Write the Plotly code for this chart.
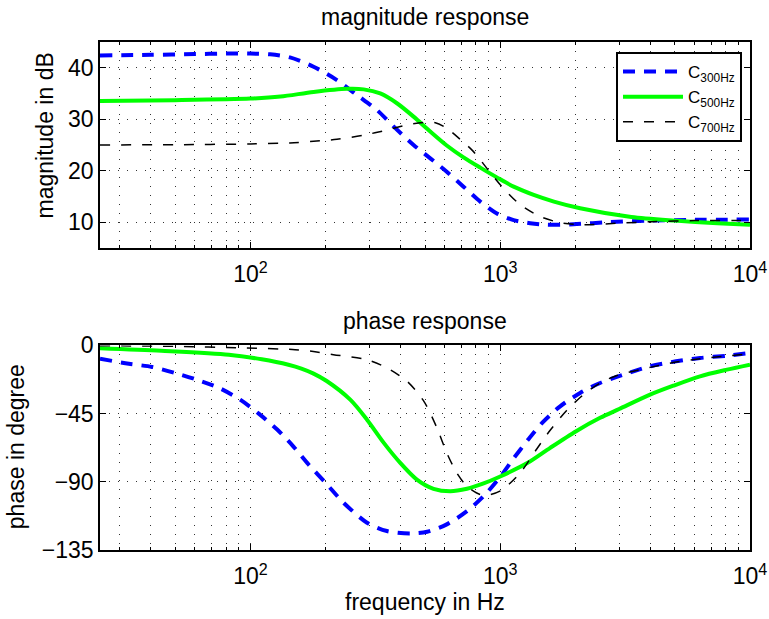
import plotly.graph_objects as go

FONT = "Liberation Sans, Arial, Helvetica, sans-serif"

# ---------------- data ----------------
series_names = ["C<sub>300Hz</sub>", "C<sub>500Hz</sub>", "C<sub>700Hz</sub>"]

freq_mag_300 = [25, 40, 60, 80, 100, 120, 144, 179, 222, 267, 321, 374, 450, 525, 611,
                713, 832, 970, 1132, 1318, 1538, 1968, 2737, 4062, 6000, 10000]
mag_300 = [42.4, 42.5, 42.65, 42.75, 42.75, 42.6, 42.0, 40.2, 37.6, 34.7, 31.8, 28.6, 25.0,
           22.4, 19.8, 16.9, 14.0, 11.7, 10.4, 9.8, 9.5, 9.6, 10.0, 10.3, 10.45, 10.5]

freq_mag_500 = [25, 50, 100, 132, 179, 244, 284, 331, 386, 450, 525, 611, 713, 832, 970,
                1132, 1362, 1641, 2089, 3350, 4990, 7400, 10000]
mag_500 = [33.55, 33.7, 34.0, 34.4, 35.3, 35.9, 35.8, 35.0, 33.1, 30.5, 27.6, 24.9, 22.6,
           20.6, 18.7, 16.9, 15.3, 14.0, 12.7, 11.0, 10.3, 9.8, 9.5]

freq_mag_700 = [25, 50, 100, 144, 179, 222, 284, 352, 424, 510, 550, 610, 665, 775, 890,
                1015, 1202, 1445, 1738, 2089, 3000, 4062, 6000, 10000]
mag_700 = [25.0, 25.05, 25.2, 25.4, 25.7, 26.1, 26.9, 27.9, 28.9, 29.4, 29.3, 28.3, 26.8,
           23.9, 20.3, 16.9, 13.4, 11.1, 9.9, 9.5, 9.8, 10.1, 10.3, 10.35]

freq_ph_300 = [25, 32.6, 40.4, 50, 61, 75, 91, 108, 128, 149, 171, 200, 236, 293, 352, 437,
               510, 611, 736, 858, 1003, 1132, 1289, 1472, 1738, 2089, 2512, 3112, 3981,
               5058, 6310, 8090, 10000]
ph_300 = [-8.8, -12.1, -14.2, -18.2, -22.6, -28.1, -35.8, -45.0, -55.5, -66.9, -78.6, -90.7,
          -103.8, -117.0, -122.5, -124.1, -123.0, -118.1, -109.4, -99.5, -86.5, -74.5, -62.5,
          -51.1, -40.2, -31.4, -24.8, -19.3, -13.8, -10.5, -8.3, -6.8, -5.0]

freq_ph_500 = [25, 44, 82, 111, 142, 160, 179, 202, 251, 293, 342, 398, 464, 541, 631, 736,
               858, 1000, 1289, 1585, 2014, 2512, 2993, 3981, 4932, 6310, 8090, 10000]
ph_500 = [-1.8, -3.5, -6.1, -9.2, -12.8, -15.3, -18.6, -23.5, -35.8, -49.0, -64.3, -77.5,
          -88.5, -94.6, -96.2, -94.6, -91.1, -86.5, -77.5, -67.6, -56.6, -47.8, -42.0, -32.5,
          -26.6, -20.4, -16.0, -12.7]

freq_ph_700 = [25, 50, 95, 151, 176, 215, 293, 352, 424, 495, 558, 611, 670, 736, 832, 912,
               1015, 1202, 1396, 1585, 1845, 2153, 2512, 2930, 3981, 5058, 6310, 8090, 10000]
ph_700 = [-0.2, -0.6, -1.7, -2.8, -3.9, -6.1, -9.4, -14.9, -23.7, -36.9, -54.4, -70.9, -84.1,
          -92.9, -98.4, -98.4, -95.5, -84.1, -68.7, -56.0, -43.0, -32.5, -24.8, -19.9, -14.5,
          -11.0, -8.8, -7.0, -5.4]

x_tick_vals = [100, 1000, 10000]
x_tick_text = ["10<sup>2</sup>", "10<sup>3</sup>", "10<sup>4</sup>"]
mag_ticks = [10, 20, 30, 40]
ph_ticks = [0, -45, -90, -135]

# ---------------- layout geometry ----------------
W, H = 769, 619
ML, MR, MT, MB = 99.5, 19, 42, 68.5
PW = W - ML - MR
PH = H - MT - MB


def py(p):
    return 1 - (p - MT) / PH


def px(p):
    return (p - ML) / PW


styles = [
    dict(color="#0000FF", width=4, dash="12px,9px"),
    dict(color="#00FF00", width=4, dash="solid"),
    dict(color="#000000", width=1.5, dash="10px,11px"),
]

fig = go.Figure()
mags = [(freq_mag_300, mag_300), (freq_mag_500, mag_500), (freq_mag_700, mag_700)]
phs = [(freq_ph_300, ph_300), (freq_ph_500, ph_500), (freq_ph_700, ph_700)]
for name, (f, m), st in zip(series_names, mags, styles):
    fig.add_trace(go.Scatter(x=f, y=m, mode="lines", name=name,
                             line=dict(shape="spline", smoothing=0.8, **st),
                             xaxis="x", yaxis="y", showlegend=True))
for name, (f, p), st in zip(series_names, phs, styles):
    fig.add_trace(go.Scatter(x=f, y=p, mode="lines", name=name,
                             line=dict(shape="spline", smoothing=0.8, **st),
                             xaxis="x2", yaxis="y2", showlegend=False))

minor_vals = [m * 10 ** d for d in (1, 2, 3) for m in range(2, 10) if 25 < m * 10 ** d < 10000]

GRID = dict(showgrid=True, gridcolor="#333333", gridwidth=1, griddash="1px,8px")
common_x = dict(type="log", range=[1.39794, 4], tickvals=x_tick_vals, ticktext=x_tick_text,
                ticks="inside", ticklen=6, tickcolor="black", tickwidth=1,
                showline=True, linecolor="black", linewidth=1.5, mirror="allticks",
                zeroline=False, tickfont=dict(size=23, family=FONT, color="black"),
                ticklabelstandoff=5,
                minor=dict(tickvals=minor_vals, ticks="inside", ticklen=3, tickcolor="black",
                           showgrid=True, gridcolor="#333333", gridwidth=1, griddash="1px,8px"),
                **GRID)
common_y = dict(ticks="inside", ticklen=6, tickcolor="black", tickwidth=1,
                showline=True, linecolor="black", linewidth=1.5, mirror="allticks",
                zeroline=False, tickfont=dict(size=23, family=FONT, color="black"),
                ticklabelstandoff=0, **GRID)

top_lo = py(248.1)
bot_hi = py(345.7)

fig.update_layout(
    width=W, height=H,
    margin=dict(l=ML, r=MR, t=MT, b=MB, autoexpand=False),
    paper_bgcolor="white", plot_bgcolor="white",
    font=dict(family=FONT, size=23, color="black"),
    xaxis=dict(domain=[0, 1], anchor="y", **common_x),
    yaxis=dict(domain=[top_lo, 1], anchor="x", range=[5, 45], tickvals=mag_ticks, **common_y),
    xaxis2=dict(domain=[0, 1], anchor="y2", **common_x),
    yaxis2=dict(domain=[0, bot_hi], anchor="x2", range=[-135, 0], tickvals=ph_ticks, **common_y),
    legend=dict(x=px(742), xanchor="right", y=py(52), yanchor="top",
                bordercolor="black", borderwidth=2, bgcolor="white",
                font=dict(size=17, family=FONT, color="black"), itemwidth=60,
                tracegroupgap=0),
    annotations=[
        dict(text="magnitude response", x=0.5, y=py(17), xref="paper", yref="paper",
             showarrow=False, xanchor="center", yanchor="middle", font=dict(size=23)),
        dict(text="phase response", x=0.5, y=py(321), xref="paper", yref="paper",
             showarrow=False, xanchor="center", yanchor="middle", font=dict(size=23)),
        dict(text="frequency in Hz", x=0.5, y=py(603), xref="paper", yref="paper",
             showarrow=False, xanchor="center", yanchor="middle", font=dict(size=23)),
        dict(text="magnitude in dB", x=px(44), y=py(136), xref="paper", yref="paper",
             showarrow=False, xanchor="center", yanchor="middle", textangle=-90,
             font=dict(size=23)),
        dict(text="phase in degree", x=px(15), y=py(447), xref="paper", yref="paper",
             showarrow=False, xanchor="center", yanchor="middle", textangle=-90,
             font=dict(size=23)),
    ],
)

fig.write_html("out.html", config={"displayModeBar": False},
               post_script="document.body.style.margin='0px';")
